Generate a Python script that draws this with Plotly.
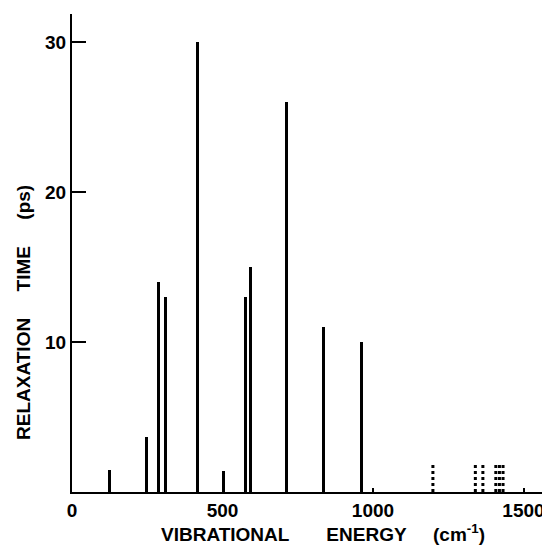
import plotly.graph_objects as go

# Solid bars: vibrational energy (cm^-1) and relaxation time (ps)
solid_energy = [125, 246, 288, 310, 416, 503, 575, 592, 714, 836, 961]
solid_time = [1.5, 3.7, 14, 13, 30, 1.4, 13, 15, 26, 11, 10]

# Dotted bars (estimated upper values)
dotted_energy = [1199, 1340, 1365, 1408, 1420, 1432]
dotted_time = [1.9, 1.9, 1.9, 1.9, 1.9, 1.9]

x_ticks = [0, 500, 1000, 1500]
y_ticks = [10, 20, 30]

fig = go.Figure()

fig.add_trace(go.Bar(
    x=solid_energy, y=solid_time, width=10,
    marker=dict(color="black", line=dict(width=0)),
    showlegend=False,
))

for e, t in zip(dotted_energy, dotted_time):
    fig.add_trace(go.Scatter(
        x=[e, e], y=[0, t], mode="lines",
        line=dict(color="black", width=3, dash="dot"),
        showlegend=False,
    ))

tickfont = dict(family="Liberation Sans, Arial, sans-serif", size=19, color="black", weight="bold")
titlefont = dict(family="Liberation Sans, Arial, sans-serif", size=19, color="black", weight="bold")

sp7 = "&nbsp;" * 7
sp5 = "&nbsp;" * 5

fig.update_layout(
    width=542, height=541,
    margin=dict(l=64, r=0, t=6, b=57),
    plot_bgcolor="white", paper_bgcolor="white",
    bargap=0,
    xaxis=dict(
        range=[0, 1588], tickvals=x_ticks, ticktext=[str(v) for v in x_ticks],
        showgrid=False, zeroline=False, showline=True, linecolor="black", linewidth=2,
        ticks="inside", ticklen=4, tickwidth=2, tickcolor="black",
        tickfont=tickfont, automargin=False,
    ),
    yaxis=dict(
        range=[0, 31.9], tickvals=y_ticks, ticktext=[str(v) for v in y_ticks],
        showgrid=False, zeroline=False, showline=True, linecolor="black", linewidth=2,
        ticks="inside", ticklen=14, tickwidth=2, tickcolor="black",
        tickfont=tickfont, ticklabelstandoff=0, automargin=False,
    ),
    annotations=[
        dict(text="VIBRATIONAL" + sp7 + "ENERGY" + sp5 + "(cm<sup>-1</sup>)",
             xref="paper", yref="paper", x=0.525, y=-0.086, xanchor="center", yanchor="middle",
             showarrow=False, font=titlefont),
        dict(text="RELAXATION" + sp5 + "TIME" + sp5 + "(ps)",
             xref="paper", yref="paper", x=-0.1, y=0.375, xanchor="center", yanchor="middle",
             textangle=-90, showarrow=False, font=titlefont),
    ],
)

fig.write_html("out.html")
